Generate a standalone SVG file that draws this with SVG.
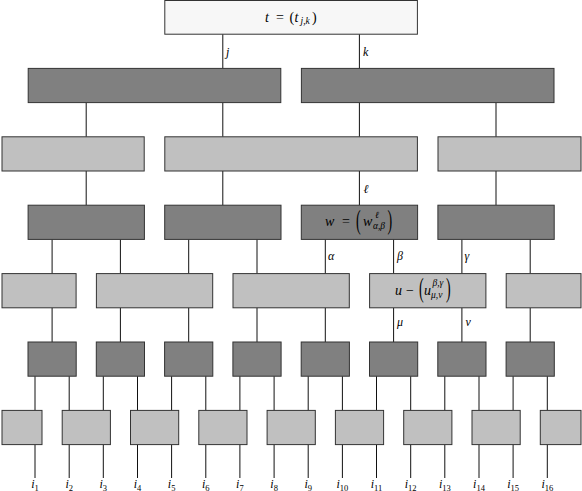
<svg xmlns="http://www.w3.org/2000/svg" width="582" height="491" viewBox="0 0 582 491">
<style>
.dk{fill:#808080;stroke:#333;stroke-width:1}
.lt{fill:#c0c0c0;stroke:#333;stroke-width:1}
.tp{fill:#f7f7f7;stroke:#333;stroke-width:1}
.ln{fill:none;stroke:#111;stroke-width:1}
.m{font-family:'Liberation Serif',serif;font-style:italic;font-size:14px;fill:#000}
.u{font-family:'Liberation Serif',serif;font-style:normal;font-size:14px;fill:#000}
.s{font-family:'Liberation Serif',serif;font-style:italic;font-size:9.5px;fill:#000}
.lb{font-family:'Liberation Serif',serif;font-style:italic;font-size:12px;fill:#000}
.sb{font-family:'Liberation Serif',serif;font-style:normal;font-size:8.5px;fill:#000}
</style>
<g id="connectors">
<path class="ln" d="M222.8 34.2V68.4M359.4 34.2V68.4
M86.2 102.6V136.8M222.8 102.6V136.8M359.4 102.6V136.8M496 102.6V136.8
M86.2 171V205.2M222.8 171V205.2M359.4 171V205.2M496 171V205.2
M52.1 239.4V273.6M120.4 239.4V273.6M188.7 239.4V273.6M257 239.4V273.6M325.3 239.4V273.6M393.6 239.4V273.6M461.9 239.4V273.6M530.2 239.4V273.6
M52.1 307.8V342M120.4 307.8V342M188.7 307.8V342M257 307.8V342M325.3 307.8V342M393.6 307.8V342M461.9 307.8V342M530.2 307.8V342
M35 376.2V410.4M69.2 376.2V410.4M103.3 376.2V410.4M137.5 376.2V410.4M171.6 376.2V410.4M205.8 376.2V410.4M239.9 376.2V410.4M274.1 376.2V410.4M308.2 376.2V410.4M342.4 376.2V410.4M376.5 376.2V410.4M410.7 376.2V410.4M444.8 376.2V410.4M479 376.2V410.4M513.1 376.2V410.4M547.3 376.2V410.4
M35 444.6V478M69.2 444.6V478M103.3 444.6V478M137.5 444.6V478M171.6 444.6V478M205.8 444.6V478M239.9 444.6V478M274.1 444.6V478M308.2 444.6V478M342.4 444.6V478M376.5 444.6V478M410.7 444.6V478M444.8 444.6V478M479 444.6V478M513.1 444.6V478M547.3 444.6V478"/>
<text class="lb" x="226" y="55.5">j</text>
<text class="lb" x="363" y="55.5">k</text>
<text class="lb" x="363.5" y="193">ℓ</text>
<text class="lb" x="328" y="259.5">α</text>
<text class="lb" x="397" y="259.5">β</text>
<text class="lb" x="464.5" y="259.5">γ</text>
<text class="lb" x="397" y="325.5">μ</text>
<text class="lb" x="465.5" y="325.5">ν</text>
<g text-anchor="middle">
<text class="lb" x="35" y="488">i<tspan class="sb" dy="2.5">1</tspan></text>
<text class="lb" x="69.2" y="488">i<tspan class="sb" dy="2.5">2</tspan></text>
<text class="lb" x="103.3" y="488">i<tspan class="sb" dy="2.5">3</tspan></text>
<text class="lb" x="137.5" y="488">i<tspan class="sb" dy="2.5">4</tspan></text>
<text class="lb" x="171.6" y="488">i<tspan class="sb" dy="2.5">5</tspan></text>
<text class="lb" x="205.8" y="488">i<tspan class="sb" dy="2.5">6</tspan></text>
<text class="lb" x="239.9" y="488">i<tspan class="sb" dy="2.5">7</tspan></text>
<text class="lb" x="274.1" y="488">i<tspan class="sb" dy="2.5">8</tspan></text>
<text class="lb" x="308.2" y="488">i<tspan class="sb" dy="2.5">9</tspan></text>
<text class="lb" x="342.4" y="488">i<tspan class="sb" dy="2.5">10</tspan></text>
<text class="lb" x="376.5" y="488">i<tspan class="sb" dy="2.5">11</tspan></text>
<text class="lb" x="410.7" y="488">i<tspan class="sb" dy="2.5">12</tspan></text>
<text class="lb" x="444.8" y="488">i<tspan class="sb" dy="2.5">13</tspan></text>
<text class="lb" x="479" y="488">i<tspan class="sb" dy="2.5">14</tspan></text>
<text class="lb" x="513.1" y="488">i<tspan class="sb" dy="2.5">15</tspan></text>
<text class="lb" x="547.3" y="488">i<tspan class="sb" dy="2.5">16</tspan></text>
</g>
</g>
<g id="t">
<rect class="tp" x="164.8" y="0.5" width="252.6" height="33.7"/>
<text y="21.5"><tspan class="m" x="265">t</tspan><tspan class="u" x="276">=</tspan><tspan class="u" x="289.5">(</tspan><tspan class="m" x="294.5">t</tspan><tspan class="s" x="300.5" y="24">j,k</tspan><tspan class="u" x="312" y="21.5">)</tspan></text>
</g>
<g id="row1">
<g id="r1a"><rect class="dk" x="28.2" y="68.4" width="252.6" height="34.2"/></g>
<g id="r1b"><rect class="dk" x="301.4" y="68.4" width="252.6" height="34.2"/></g>
</g>
<g id="row2">
<g id="r2a"><rect class="lt" x="2" y="136.8" width="142.2" height="34.2"/></g>
<g id="r2b"><rect class="lt" x="164.8" y="136.8" width="252.6" height="34.2"/></g>
<g id="r2c"><rect class="lt" x="438" y="136.8" width="143" height="34.2"/></g>
</g>
<g id="row3">
<g id="r3a"><rect class="dk" x="28.1" y="205.2" width="116.3" height="34.2"/></g>
<g id="r3b"><rect class="dk" x="164.7" y="205.2" width="116.3" height="34.2"/></g>
<g id="w">
<rect class="dk" x="301.3" y="205.2" width="116.3" height="34.2"/>
<text class="m" x="325" y="226">w</text>
<text class="u" x="342" y="226">=</text>
<text class="u" transform="translate(356 229.2) scale(1 1.89)">(</text>
<text class="m" x="363" y="226">w</text>
<text class="s" x="375" y="217.5">ℓ</text>
<text class="s" x="373" y="229">α,β</text>
<text class="u" transform="translate(387.5 229.2) scale(1 1.89)">)</text>
</g>
<g id="r3d"><rect class="dk" x="437.9" y="205.2" width="116.3" height="34.2"/></g>
</g>
<g id="row4">
<g id="r4a"><rect class="lt" x="2" y="273.6" width="74.1" height="34.2"/></g>
<g id="r4b"><rect class="lt" x="96.4" y="273.6" width="116.3" height="34.2"/></g>
<g id="r4c"><rect class="lt" x="233" y="273.6" width="116.3" height="34.2"/></g>
<g id="u">
<rect class="lt" x="369.6" y="273.6" width="116.3" height="34.2"/>
<text class="m" x="395" y="295">u</text>
<text class="u" x="406" y="295">−</text>
<text class="u" transform="translate(419 297.4) scale(1 1.97)">(</text>
<text class="m" x="424" y="295">u</text>
<text class="s" x="432.5" y="285.5">β,γ</text>
<text class="s" x="431" y="298">μ,ν</text>
<text class="u" transform="translate(446 297.4) scale(1 1.97)">)</text>
</g>
<g id="r4e"><rect class="lt" x="506.2" y="273.6" width="74.8" height="34.2"/></g>
</g>
<g id="row5">
<g id="r5a"><rect class="dk" x="28" y="342" width="48.2" height="34.2"/></g>
<g id="r5b"><rect class="dk" x="96.3" y="342" width="48.2" height="34.2"/></g>
<g id="r5c"><rect class="dk" x="164.6" y="342" width="48.2" height="34.2"/></g>
<g id="r5d"><rect class="dk" x="232.9" y="342" width="48.2" height="34.2"/></g>
<g id="r5e"><rect class="dk" x="301.2" y="342" width="48.2" height="34.2"/></g>
<g id="r5f"><rect class="dk" x="369.5" y="342" width="48.2" height="34.2"/></g>
<g id="r5g"><rect class="dk" x="437.8" y="342" width="48.2" height="34.2"/></g>
<g id="r5h"><rect class="dk" x="506.1" y="342" width="48.2" height="34.2"/></g>
</g>
<g id="row6">
<g id="r6a"><rect class="lt" x="2" y="410.4" width="40" height="34.2"/></g>
<g id="r6b"><rect class="lt" x="62.2" y="410.4" width="48.2" height="34.2"/></g>
<g id="r6c"><rect class="lt" x="130.5" y="410.4" width="48.2" height="34.2"/></g>
<g id="r6d"><rect class="lt" x="198.8" y="410.4" width="48.2" height="34.2"/></g>
<g id="r6e"><rect class="lt" x="267.1" y="410.4" width="48.2" height="34.2"/></g>
<g id="r6f"><rect class="lt" x="335.4" y="410.4" width="48.2" height="34.2"/></g>
<g id="r6g"><rect class="lt" x="403.7" y="410.4" width="48.2" height="34.2"/></g>
<g id="r6h"><rect class="lt" x="472" y="410.4" width="48.2" height="34.2"/></g>
<g id="r6i"><rect class="lt" x="540.3" y="410.4" width="40.7" height="34.2"/></g>
</g>
</svg>
